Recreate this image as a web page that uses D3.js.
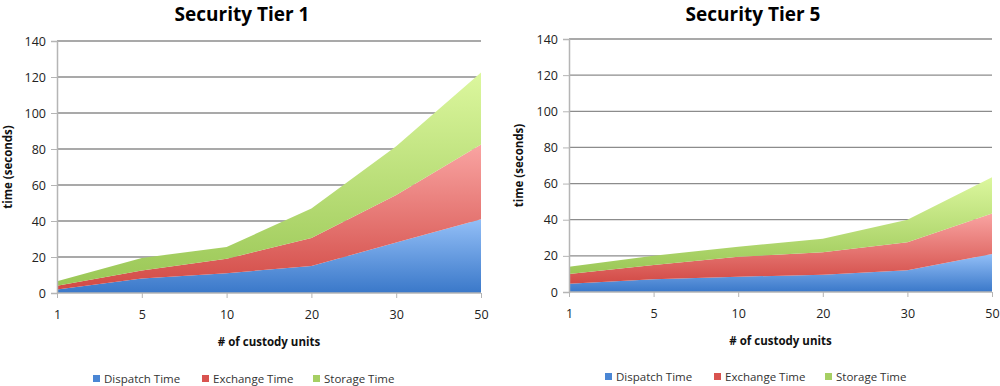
<!DOCTYPE html>
<html>
<head>
<meta charset="utf-8">
<script src="https://cdn.jsdelivr.net/npm/d3@7"></script>
<style>
  body { margin: 0; background: #fff; }
  svg { display: block; font-family: "Open Sans", "Liberation Sans", sans-serif; }
</style>
</head>
<body>
<script>
// ---------- DATA ----------
var units = ["1", "5", "10", "20", "30", "50"];
var seriesNames = ["Dispatch Time", "Exchange Time", "Storage Time"];
var yTicks = [0, 20, 40, 60, 80, 100, 120, 140];

// Tier 1
var dispatch1 = [2, 8, 11, 15, 28, 41];
var exchange1 = [2, 4.5, 8, 15.5, 26.5, 41.5];
var storage1  = [2.5, 7, 6.5, 16.5, 27, 40];

// Tier 5
var dispatch5 = [4.5, 7, 8.5, 9.5, 12, 21];
var exchange5 = [5.5, 8, 11, 12.5, 15.5, 22.5];
var storage5  = [4, 5, 5.5, 7.5, 12.5, 20];

// ---------- STYLE ----------
var W = 1000, H = 386;
var grads = [
  ["#3a78c9", "#93bff7"],
  ["#d24a45", "#f9a4a2"],
  ["#9ac756", "#dcf79e"]
];
var legendColors = ["#4a86d4", "#d9534f", "#a6cf63"];

var svg = d3.select("body").append("svg")
  .attr("width", W)
  .attr("height", H);

var defs = svg.append("defs");
grads.forEach(function (g, i) {
  var lg = defs.append("linearGradient")
    .attr("id", "grad" + i)
    .attr("x1", 0).attr("y1", 1)
    .attr("x2", 0).attr("y2", 0);
  lg.append("stop").attr("offset", "0%").attr("stop-color", g[0]);
  lg.append("stop").attr("offset", "100%").attr("stop-color", g[1]);
});

function drawChart(opts) {
  var g = svg.append("g");

  var x = d3.scalePoint().domain(units).range([opts.x0, opts.x1]);
  var y = d3.scaleLinear().domain([0, 140]).range([opts.yBottom, opts.yTop]);

  // gridlines
  g.selectAll("line.grid")
    .data(yTicks.slice(1))
    .enter().append("line")
    .attr("x1", opts.x0).attr("x2", opts.x1)
    .attr("y1", d => y(d)).attr("y2", d => y(d))
    .attr("stroke", "#8c8c8c")
    .attr("stroke-width", 1.3);

  // stacked areas
  var rows = units.map(function (u, i) {
    return { unit: u, s0: opts.series[0][i], s1: opts.series[1][i], s2: opts.series[2][i] };
  });
  var stack = d3.stack().keys(["s0", "s1", "s2"]);
  var layers = stack(rows);

  var area = d3.area()
    .x(d => x(d.data.unit))
    .y0(d => y(d[0]))
    .y1(d => y(d[1]));

  g.selectAll("path.layer")
    .data(layers)
    .enter().append("path")
    .attr("d", area)
    .attr("fill", (d, i) => "url(#grad" + i + ")");

  // y axis
  var yAxis = d3.axisLeft(y).tickValues(yTicks).tickSize(6).tickPadding(5);
  var ya = g.append("g")
    .attr("transform", "translate(" + opts.x0 + ",0)")
    .call(yAxis);
  ya.select(".domain").attr("stroke", "#b5b5b5").attr("stroke-width", 1.5);
  ya.selectAll(".tick line").attr("stroke", "#b5b5b5");
  ya.selectAll(".tick text")
    .attr("font-size", "12.5px")
    .attr("fill", "#222")
    .style("font-family", "\"Open Sans\", sans-serif");

  // x axis
  var xAxis = d3.axisBottom(x).tickSize(5).tickPadding(12);
  var xa = g.append("g")
    .attr("transform", "translate(0," + opts.yBottom + ")")
    .call(xAxis);
  xa.select(".domain").attr("stroke", "#b5b5b5").attr("stroke-width", 1.5)
    .attr("d", "M" + opts.x0 + ",0H" + opts.x1);
  xa.selectAll(".tick line").attr("stroke", "#b5b5b5");
  xa.selectAll(".tick text")
    .attr("font-size", "12.5px")
    .attr("fill", "#222")
    .style("font-family", "\"Open Sans\", sans-serif");

  // title
  g.append("text")
    .attr("x", opts.titleX)
    .attr("y", opts.titleY)
    .attr("text-anchor", "middle")
    .attr("font-size", "19px")
    .attr("font-weight", "bold")
    .attr("fill", "#000")
    .text(opts.title);

  // axis titles
  g.append("text")
    .attr("x", (opts.x0 + opts.x1) / 2)
    .attr("y", opts.yBottom + 53)
    .attr("text-anchor", "middle")
    .attr("font-size", "11.5px")
    .attr("font-weight", "bold")
    .attr("fill", "#111")
    .text("# of custody units");

  g.append("text")
    .attr("transform", "translate(" + opts.yTitleX + "," + ((opts.yTop + opts.yBottom) / 2) + ") rotate(-90)")
    .attr("text-anchor", "middle")
    .attr("font-size", "11.5px")
    .attr("font-weight", "bold")
    .attr("fill", "#111")
    .text("time (seconds)");

  // legend
  var legendX = [opts.legendX, opts.legendX + 109, opts.legendX + 220];
  var lg = g.append("g");
  seriesNames.forEach(function (name, i) {
    lg.append("rect")
      .attr("x", legendX[i])
      .attr("y", opts.legendY - 8)
      .attr("width", 7).attr("height", 7)
      .attr("fill", legendColors[i]);
    lg.append("text")
      .attr("x", legendX[i] + 11)
      .attr("y", opts.legendY)
      .attr("font-size", "11.5px")
      .attr("fill", "#333")
      .text(name);
  });
}

drawChart({
  title: "Security Tier 1",
  titleX: 242, titleY: 21,
  x0: 57, x1: 481, yTop: 41, yBottom: 293,
  yTitleX: 12,
  legendX: 93, legendY: 383,
  series: [dispatch1, exchange1, storage1]
});

drawChart({
  title: "Security Tier 5",
  titleX: 753, titleY: 21,
  x0: 569, x1: 992, yTop: 39, yBottom: 292,
  yTitleX: 523,
  legendX: 605, legendY: 381,
  series: [dispatch5, exchange5, storage5]
});
</script>
</body>
</html>
